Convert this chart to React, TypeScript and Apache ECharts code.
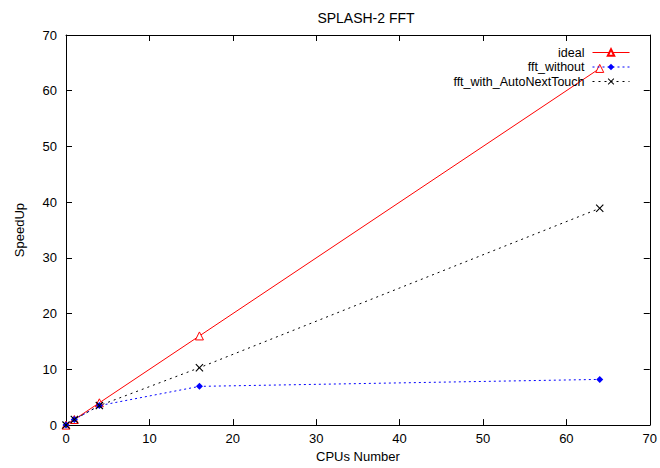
import React, { useEffect, useRef } from "react";
import * as echarts from "echarts";

const cpus = [0, 1, 4, 16, 64];
const ideal = [0, 1, 4, 16, 64];
const fftWithout = [0, 1, 3.5, 6.95, 8.2];
const fftWithAuto = [0, 1, 3.5, 10.3, 38.9];
const xTicks = [0, 10, 20, 30, 40, 50, 60, 70];
const yTicks = [0, 10, 20, 30, 40, 50, 60, 70];

const FONT = "'Liberation Sans', Arial, sans-serif";
const X_PATH = "path://M0,1L1,0L5,4L9,0L10,1L6,5L10,9L9,10L5,6L1,10L0,9L4,5Z";

export default function App() {
  const ref = useRef<HTMLDivElement>(null);
  useEffect(() => {
    if (!ref.current) return;
    const chart = echarts.init(ref.current, undefined, { renderer: "svg" });
    const pair = (xs: number[], ys: number[]) => xs.map((x, i) => [x, ys[i]]);
    const baseAxis = {
      type: "value" as const,
      min: xTicks[0],
      max: xTicks[xTicks.length - 1],
      interval: 10,
      splitLine: { show: false },
      axisLine: { show: true, onZero: false, lineStyle: { color: "#000", width: 1 } },
      axisTick: { show: true, inside: true, length: 6, lineStyle: { color: "#000" } },
    };
    chart.setOption({
      animation: false,
      backgroundColor: "#fff",
      title: {
        text: "SPLASH-2 FFT",
        left: 361,
        top: 6,
        textAlign: "center",
        textStyle: { fontFamily: FONT, fontSize: 14, fontWeight: "normal", color: "#000" },
      },
      grid: { left: 66, right: 6, top: 35, bottom: 40 },
      legend: {
        orient: "vertical",
        right: 25,
        top: 41,
        align: "right",
        itemWidth: 37,
        itemHeight: 8,
        itemGap: 1.5,
        lineStyle: { width: 1 },
        textStyle: { fontFamily: FONT, fontSize: 12.5, lineHeight: 12, color: "#000", padding: [0, 3, 0, 0] },
        data: ["ideal", "fft_without", "fft_with_AutoNextTouch"],
      },
      xAxis: [
        {
          ...baseAxis,
          position: "bottom",
          name: "CPUs Number",
          nameLocation: "middle",
          nameGap: 24,
          nameTextStyle: { fontFamily: FONT, fontSize: 13, color: "#000" },
          axisLabel: { fontFamily: FONT, fontSize: 13, color: "#000", margin: 7 },
        },
        { ...baseAxis, position: "top", axisLabel: { show: false } },
      ],
      yAxis: [
        {
          ...baseAxis,
          min: yTicks[0],
          max: yTicks[yTicks.length - 1],
          position: "left",
          name: "SpeedUp",
          nameLocation: "middle",
          nameGap: 40,
          nameTextStyle: { fontFamily: FONT, fontSize: 13, color: "#000" },
          axisLabel: { fontFamily: FONT, fontSize: 13, color: "#000", margin: 9 },
        },
        {
          ...baseAxis,
          min: yTicks[0],
          max: yTicks[yTicks.length - 1],
          position: "right",
          axisLabel: { show: false },
        },
      ],
      series: [
        {
          name: "ideal",
          type: "line",
          data: pair(cpus, ideal),
          symbol: "triangle",
          symbolSize: 8,
          lineStyle: { color: "#ff0000", width: 1, type: "solid" },
          itemStyle: { color: "#ffffff", borderColor: "#ff0000", borderWidth: 1 },
          emphasis: { disabled: true },
        },
        {
          name: "fft_without",
          type: "line",
          data: pair(cpus, fftWithout),
          symbol: "diamond",
          symbolSize: 7,
          lineStyle: { color: "#0000ff", width: 1, type: [2, 3] },
          itemStyle: { color: "#0000ff" },
          emphasis: { disabled: true },
        },
        {
          name: "fft_with_AutoNextTouch",
          type: "line",
          data: pair(cpus, fftWithAuto),
          symbol: X_PATH,
          symbolSize: 8,
          lineStyle: { color: "#000000", width: 1, type: [2, 4] },
          itemStyle: { color: "#000000" },
          emphasis: { disabled: true },
        },
      ],
    });
    return () => chart.dispose();
  }, []);
  return <div ref={ref} style={{ width: 660, height: 468, position: "absolute", left: 0, top: 0 }} />;
}
